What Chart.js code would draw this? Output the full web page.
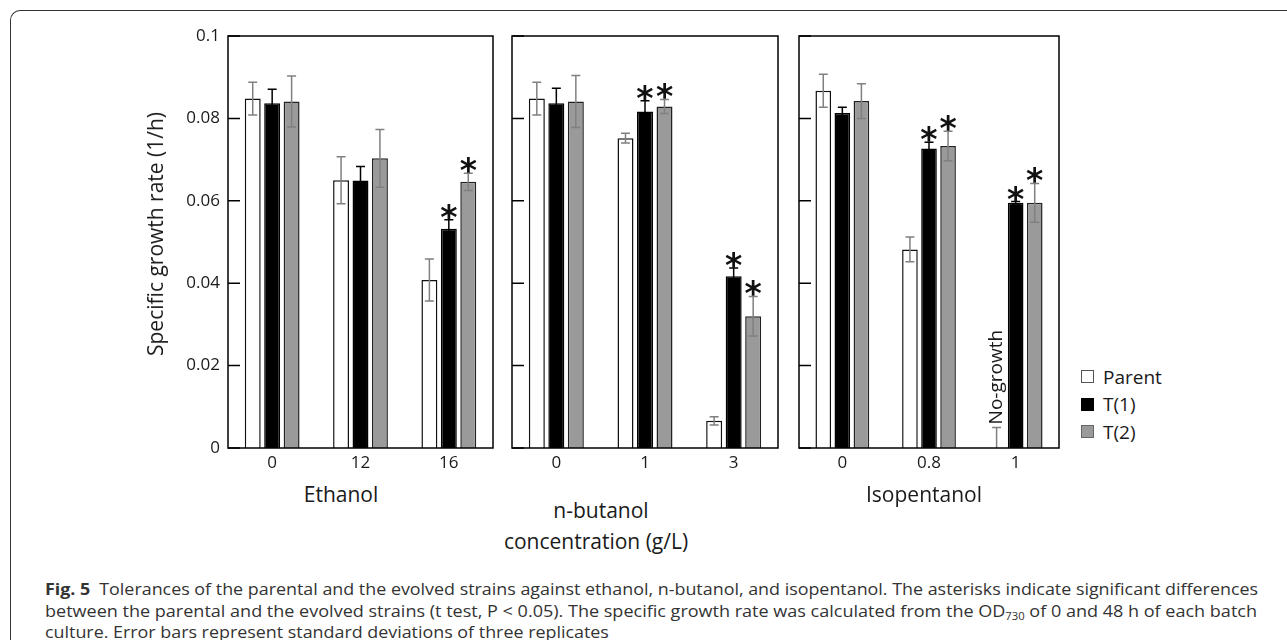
<!DOCTYPE html>
<html>
<head>
<meta charset="utf-8">
<script src="https://cdn.jsdelivr.net/npm/chart.js@4.4.1/dist/chart.umd.min.js"></script>
<style>
  html, body { margin: 0; padding: 0; background: #fff; }
  body { width: 1287px; height: 640px; position: relative; overflow: hidden;
         font-family: 'Open Sans', 'Noto Sans', sans-serif; color: #1a1a1a; }
  .frame { position: absolute; left: 10px; top: 10px; width: 1300px; height: 700px;
           border-left: 1.5px solid #333; border-top: 1.5px solid #333;
           border-top-left-radius: 10px; box-sizing: border-box; }
  .panel { position: absolute; top: 16px; height: 464px; }
  .ytitle { position: absolute; left: 155px; top: 234px; font-size: 21px; white-space: nowrap;
            transform: translate(-50%, -50%) rotate(-90deg); }
  .xtitle { position: absolute; font-size: 21px; white-space: nowrap; transform: translate(-50%, -50%); }
  .legend { position: absolute; left: 1081px; top: 363px; font-size: 19px; }
  .legend div { height: 27.5px; display: flex; align-items: center; }
  .legend .box { width: 13px; height: 13px; box-sizing: border-box; margin-right: 9px; }
  .caption { position: absolute; left: 45px; top: 579px; font-size: 16px; line-height: 21.5px; color: #333; }
  .caption div { white-space: nowrap; transform-origin: left center; width: max-content; height: 21.5px; }
  .caption sub { font-size: 10px; line-height: 0; vertical-align: baseline; position: relative; top: 0.35em; }
</style>
</head>
<body>
<div class="frame"></div>

<div class="panel" style="left:148px; width:365px;"><canvas id="ethanolChart"></canvas></div>
<div class="panel" style="left:432px; width:366px;"><canvas id="butanolChart"></canvas></div>
<div class="panel" style="left:719px; width:360px;"><canvas id="isopentanolChart"></canvas></div>

<div class="ytitle">Specific growth rate (1/h)</div>
<div class="xtitle" style="left:341px; top:494px;">Ethanol</div>
<div class="xtitle" style="left:601px; top:510px;">n-butanol</div>
<div class="xtitle" style="left:596px; top:541px;">concentration (g/L)</div>
<div class="xtitle" style="left:924px; top:494px;">Isopentanol</div>

<div class="legend">
  <div><span class="box" style="background:#fff; border:1.5px solid #555;"></span>Parent</div>
  <div><span class="box" style="background:#000; border:1.5px solid #000;"></span>T(1)</div>
  <div><span class="box" style="background:#9a9a9a; border:1.5px solid #666;"></span>T(2)</div>
</div>

<div class="caption">
  <div id="cap1"><b>Fig. 5</b>&ensp;Tolerances of the parental and the evolved strains against ethanol, n-butanol, and isopentanol. The asterisks indicate significant differences</div>
  <div id="cap2">between the parental and the evolved strains (t test, P &lt; 0.05). The specific growth rate was calculated from the OD<sub>730</sub> of 0 and 48 h of each batch</div>
  <div id="cap3">culture. Error bars represent standard deviations of three replicates</div>
</div>

<script>
(function () {
    'use strict';

    // ── Data ───────────────────────────────────────────────────────────────────
    const ETHANOL_CATS     = ['0', '12', '16'];
    const BUTANOL_CATS     = ['0', '1', '3'];
    const ISOPENTANOL_CATS = ['0', '0.8', '1'];

    // Ethanol
    const ETH_PARENT     = [0.0848, 0.0650, 0.0408];
    const ETH_PARENT_ERR = [0.0040, 0.0057, 0.0051];
    const ETH_T1         = [0.0837, 0.0649, 0.0532];
    const ETH_T1_ERR     = [0.0034, 0.0034, 0.0022];
    const ETH_T2         = [0.0841, 0.0703, 0.0646];
    const ETH_T2_ERR     = [0.0062, 0.0070, 0.0021];
    const ETH_SIG_T1     = [false, false, true];
    const ETH_SIG_T2     = [false, false, true];

    // n-butanol
    const BUT_PARENT     = [0.0848, 0.0752, 0.0066];
    const BUT_PARENT_ERR = [0.0040, 0.0012, 0.0010];
    const BUT_T1         = [0.0837, 0.0817, 0.0417];
    const BUT_T1_ERR     = [0.0036, 0.0026, 0.0020];
    const BUT_T2         = [0.0841, 0.0829, 0.0320];
    const BUT_T2_ERR     = [0.0063, 0.0017, 0.0048];
    const BUT_SIG_T1     = [false, true, true];
    const BUT_SIG_T2     = [false, true, true];

    // Isopentanol (parent at 1 g/L did not grow)
    const ISO_PARENT     = [0.0867, 0.0482, 0];
    const ISO_PARENT_ERR = [0.0040, 0.0030, 0.0050];
    const ISO_T1         = [0.0813, 0.0727, 0.0595];
    const ISO_T1_ERR     = [0.0014, 0.0015, 0.0003];
    const ISO_T2         = [0.0842, 0.0733, 0.0595];
    const ISO_T2_ERR     = [0.0042, 0.0036, 0.0047];
    const ISO_SIG_T1     = [false, true, true];
    const ISO_SIG_T2     = [false, true, true];
    const ISO_NOTES      = [null, null, 'No-growth'];

    const Y_TICKS = [0, 0.02, 0.04, 0.06, 0.08, 0.1];

    // ── Styles ─────────────────────────────────────────────────────────────────
    const FONT = "'Open Sans', 'Noto Sans', sans-serif";
    const STRAIN_STYLE = [
        { name: 'Parent', fill: '#ffffff', edge: '#111111', err: '#808080' },
        { name: 'T(1)',   fill: '#000000', edge: '#000000', err: '#000000' },
        { name: 'T(2)',   fill: '#9a9a9a', edge: '#222222', err: '#808080' }
    ];

    // ── Plugin: error bars, asterisks, notes, box and inner ticks ──────────────
    const panelPlugin = {
        id: 'panelDecor',
        afterDatasetsDraw(chart, args, opts) {
            const { ctx, chartArea: a, scales: { y } } = chart;
            ctx.save();
            ctx.beginPath();
            ctx.rect(a.left, 0, a.right - a.left, a.bottom);
            ctx.clip();

            opts.errors.forEach((errs, si) => {
                const meta = chart.getDatasetMeta(si);
                const vals = chart.data.datasets[si].data;
                meta.data.forEach((bar, i) => {
                    const v = vals[i], e = errs[i];
                    const yt = y.getPixelForValue(v + e);
                    const yb = y.getPixelForValue(Math.max(0, v - e));
                    const cap = 4.5;
                    ctx.strokeStyle = STRAIN_STYLE[si].err;
                    ctx.lineWidth = 1.5;
                    ctx.beginPath();
                    ctx.moveTo(bar.x, yt); ctx.lineTo(bar.x, yb);
                    ctx.moveTo(bar.x - cap, yt); ctx.lineTo(bar.x + cap, yt);
                    if (v - e > 0) { ctx.moveTo(bar.x - cap, yb); ctx.lineTo(bar.x + cap, yb); }
                    ctx.stroke();

                    // significance asterisk
                    const sig = opts.sig[si] && opts.sig[si][i];
                    if (sig) {
                        ctx.fillStyle = '#111';
                        ctx.font = "bold 33px 'DejaVu Sans'";
                        ctx.textAlign = 'center';
                        ctx.textBaseline = 'alphabetic';
                        ctx.fillText('*', bar.x, yt + 9);
                    }
                    // rotated note (no growth)
                    const note = opts.notes && si === 0 && opts.notes[i];
                    if (note) {
                        ctx.save();
                        ctx.translate(bar.x, yt - 3);
                        ctx.rotate(-Math.PI / 2);
                        ctx.fillStyle = '#1a1a1a';
                        ctx.font = '19px ' + FONT;
                        ctx.textAlign = 'left';
                        ctx.textBaseline = 'middle';
                        ctx.fillText(note, 0, 0);
                        ctx.restore();
                    }
                });
            });
            ctx.restore();
        },
        afterDraw(chart) {
            const { ctx, chartArea: a, scales: { y } } = chart;
            ctx.save();
            ctx.strokeStyle = '#000';
            ctx.lineWidth = 1.5;
            ctx.strokeRect(a.left, a.top, a.right - a.left, a.bottom - a.top);
            ctx.beginPath();
            Y_TICKS.forEach(t => {
                const py = y.getPixelForValue(t);
                ctx.moveTo(a.left, py); ctx.lineTo(a.left + 12, py);
            });
            ctx.stroke();
            ctx.restore();
        }
    };

    function makePanel(id, cats, values, errors, sig, notes, showY) {
        return new Chart(document.getElementById(id), {
            type: 'bar',
            data: {
                labels: cats,
                datasets: values.map((vals, i) => ({
                    label: STRAIN_STYLE[i].name,
                    data: vals,
                    backgroundColor: STRAIN_STYLE[i].fill,
                    borderColor: STRAIN_STYLE[i].edge,
                    borderWidth: 1.5,
                    barPercentage: 0.82,
                    categoryPercentage: 0.66
                }))
            },
            options: {
                responsive: true,
                maintainAspectRatio: false,
                animation: false,
                layout: { padding: { top: 20, right: 20, bottom: 0, left: 0 } },
                plugins: {
                    legend: { display: false },
                    tooltip: { enabled: false },
                    panelDecor: { errors, sig, notes }
                },
                scales: {
                    x: {
                        grid: { display: false, drawTicks: false },
                        border: { display: false },
                        ticks: { font: { size: 17, family: FONT }, color: '#1a1a1a', padding: 5, maxRotation: 0 },
                        afterFit(s) { s.height = 32; }
                    },
                    y: {
                        min: 0, max: 0.1,
                        grid: { display: false, drawTicks: false },
                        border: { display: false },
                        ticks: {
                            display: showY,
                            stepSize: 0.02,
                            font: { size: 17, family: FONT },
                            color: '#1a1a1a',
                            padding: 8,
                            callback: v => v === 0 ? '0' : (Math.abs(v - 0.1) < 1e-9 ? '0.1' : v.toFixed(2))
                        },
                        afterFit(s) { s.width = 80; }
                    }
                }
            },
            plugins: [panelPlugin]
        });
    }

    makePanel('ethanolChart', ETHANOL_CATS,
        [ETH_PARENT, ETH_T1, ETH_T2], [ETH_PARENT_ERR, ETH_T1_ERR, ETH_T2_ERR],
        [null, ETH_SIG_T1, ETH_SIG_T2], null, true);
    makePanel('butanolChart', BUTANOL_CATS,
        [BUT_PARENT, BUT_T1, BUT_T2], [BUT_PARENT_ERR, BUT_T1_ERR, BUT_T2_ERR],
        [null, BUT_SIG_T1, BUT_SIG_T2], null, false);
    makePanel('isopentanolChart', ISOPENTANOL_CATS,
        [ISO_PARENT, ISO_T1, ISO_T2], [ISO_PARENT_ERR, ISO_T1_ERR, ISO_T2_ERR],
        [null, ISO_SIG_T1, ISO_SIG_T2], ISO_NOTES, false);

    // ── Caption: squeeze lines to the figure width ─────────────────────────────
    const c1 = document.getElementById('cap1');
    const c2 = document.getElementById('cap2');
    const c3 = document.getElementById('cap3');
    const s1 = 1213 / c1.getBoundingClientRect().width;
    const s2 = 1212 / c2.getBoundingClientRect().width;
    c1.style.transform = 'scaleX(' + s1 + ')';
    c2.style.transform = 'scaleX(' + s2 + ')';
    c3.style.transform = 'scaleX(' + s1 + ')';
}());
</script>
</body>
</html>
